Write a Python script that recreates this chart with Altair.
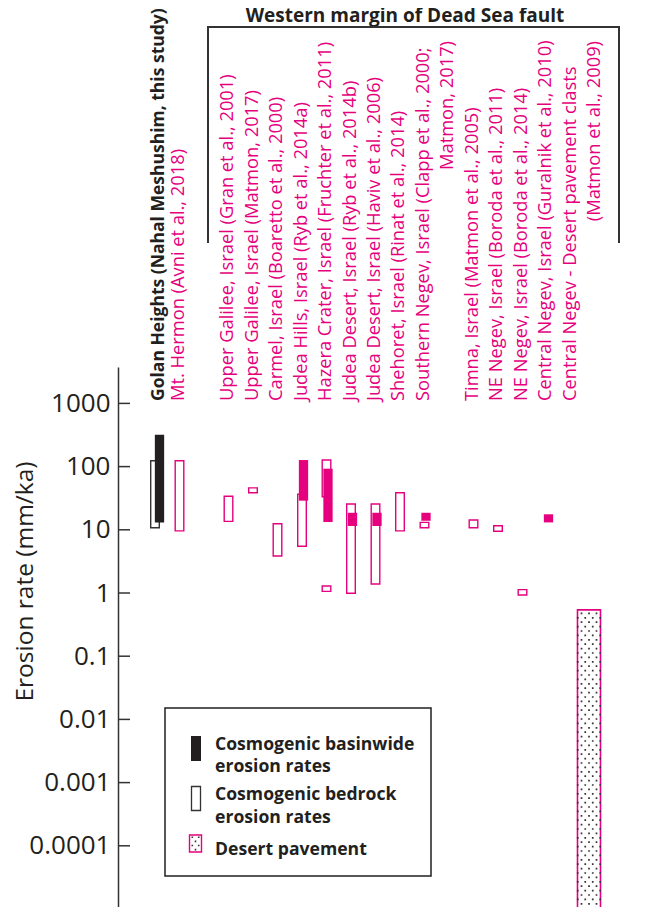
import altair as alt
import pandas as pd

PINK = "#e5007e"
DARK = "#231f20"
GREY = "#333333"
FONT = "Open Sans"

# ---- categories (column slots, left to right; pads/gaps hold no data) ----
slots = ["pad0", "Golan", "Hermon", "gap1", "UG_Gran", "UG_Matmon", "Carmel", "JudeaHills",
         "Hazera", "JD_Ryb", "JD_Haviv", "Shehoret", "SNegev", "gap2", "Timna",
         "NE_2011", "NE_2014", "CN_Guralnik", "CN_Pavement", "gap3", "pad1"]

# ---- column labels ----
label_site = ["Golan", "Hermon", "UG_Gran", "UG_Matmon", "Carmel", "JudeaHills", "Hazera",
              "JD_Ryb", "JD_Haviv", "Shehoret", "SNegev", "Timna", "NE_2011", "NE_2014",
              "CN_Guralnik", "CN_Pavement"]
label_line1 = [
    "Golan Heights (Nahal Meshushim, this study)",
    "Mt. Hermon (Avni et al., 2018)",
    "Upper Galilee, Israel (Gran et al., 2001)",
    "Upper Galilee, Israel (Matmon, 2017)",
    "Carmel, Israel (Boaretto et al., 2000)",
    "Judea Hills, Israel (Ryb et al., 2014a)",
    "Hazera Crater, Israel (Fruchter et al., 2011)",
    "Judea Desert, Israel (Ryb et al., 2014b)",
    "Judea Desert, Israel (Haviv et al., 2006)",
    "Shehoret, Israel (Rinat et al., 2014)",
    "Southern Negev, Israel (Clapp et al., 2000;",
    "Timna, Israel (Matmon et al., 2005)",
    "NE Negev, Israel (Boroda et al., 2011)",
    "NE Negev, Israel (Boroda et al., 2014)",
    "Central Negev, Israel (Guralnik et al., 2010)",
    "Central Negev - Desert pavement clasts",
]
label_line2 = ["", "", "", "", "", "", "", "", "", "", "Matmon, 2017)", "", "", "", "",
               "(Matmon et al., 2009)"]

# ---- erosion-rate ranges (mm/ka) ----
bar_site = ["Golan", "Golan", "Hermon", "UG_Gran", "UG_Matmon", "Carmel", "JudeaHills",
            "JudeaHills", "Hazera", "Hazera", "Hazera", "JD_Ryb", "JD_Ryb", "JD_Haviv",
            "JD_Haviv", "Shehoret", "SNegev", "SNegev", "Timna", "NE_2011", "NE_2014",
            "CN_Guralnik", "CN_Pavement"]
bar_kind = ["bedrock", "basin", "bedrock", "bedrock", "bedrock", "bedrock", "bedrock",
            "basin", "bedrock", "bedrock", "basin", "bedrock", "basin", "bedrock",
            "basin", "bedrock", "basin", "bedrock", "bedrock", "bedrock", "bedrock",
            "basin", "pavement"]
bar_low = [10.8, 13, 9.6, 13.6, 38.6, 3.85, 5.5, 28.9, 33.4, 1.06, 13.3, 0.99, 11.5,
           1.39, 11.5, 9.6, 13.9, 10.8, 10.8, 9.5, 0.93, 13.1, 0.00001]
bar_high = [124, 320, 124, 34, 46, 12.5, 36.5, 127, 127, 1.29, 92.7, 25.6, 18.6,
            25.6, 18.6, 38.6, 18.6, 13.1, 14.3, 11.6, 1.13, 17.6, 0.54]

tick_values = [1000, 100, 10, 1, 0.1, 0.01, 0.001, 0.0001]
header_text = ["Western margin of Dead Sea fault"]
legend_text = ["Cosmogenic basinwide", "erosion rates", "Cosmogenic bedrock",
               "\u00a0erosion rates", "Desert pavement"]

bars = pd.DataFrame({"site": bar_site, "kind": bar_kind, "low": bar_low, "high": bar_high})
labels = pd.DataFrame({"site": label_site, "line1": label_line1, "line2": label_line2})
ticks = pd.DataFrame({"v": tick_values})
one = pd.DataFrame({"a": [0]})


# ---- dotted texture paths (pixel units, size=4 -> 1 unit = 1 px) ----
def dot(x, y, s=1.7):
    return f"M{x - s / 2:.2f},{y - s / 2:.2f}h{s}v{s}h-{s}z"


main_dots = []
for r in range(72):
    yy = 3.5 + r * 4.4
    xs = [-7.5, 0, 7.5] if r % 2 == 0 else [-11.25, -3.75, 3.75, 11.25]
    main_dots += [dot(x, yy) for x in xs]
MAIN_DOTS = " ".join(main_dots)

leg_dots = []
for r, yy in enumerate([-6.2, -2.1, 2.0, 6.1]):
    xs = [-3.2, 3.2] if r % 2 == 0 else [0]
    leg_dots += [dot(x, yy, 1.6) for x in xs]
LEG_DOTS = " ".join(leg_dots)

xenc = alt.X("site:N", scale=alt.Scale(type="point", domain=slots, padding=0.49), axis=None)
yscale = alt.Scale(type="log", domain=[0.00001, 3767], nice=False)

yaxis = alt.Axis(values=tick_values, format="~g", ticks=False, grid=False,
                 labelFont=FONT, labelFontSize=26, labelColor=DARK, labelPadding=8,
                 domainColor=GREY, domainWidth=1.5,
                 title="Erosion rate (mm/ka)", titleFont=FONT, titleFontSize=24.5,
                 titleFontWeight="normal", titleColor=DARK, titleX=-93, titleY=214,
                 titleAngle=270, titleAlign="center", titleBaseline="middle")


def bar_layer(expr, **mark):
    return alt.Chart(bars).transform_filter(expr).mark_bar(**mark).encode(
        x=xenc, y=alt.Y("low:Q", scale=yscale, axis=yaxis), y2="high:Q")


layers = [
    bar_layer("datum.site == 'Golan' && datum.kind == 'bedrock'",
              width=8.6, filled=False, stroke=GREY, strokeWidth=1.4, xOffset=0.5),
    bar_layer("datum.site != 'Golan' && datum.kind == 'bedrock'",
              width=8.6, filled=False, stroke=PINK, strokeWidth=1.4, xOffset=0.5),
    bar_layer("datum.site == 'Golan' && datum.kind == 'basin'",
              width=9.3, color=DARK, xOffset=5),
    bar_layer("datum.site != 'Golan' && datum.kind == 'basin'",
              width=9.3, color=PINK, xOffset=2),
    bar_layer("datum.kind == 'pavement'",
              width=23, fill="white", stroke=PINK, strokeWidth=1.6, xOffset=18),
    alt.Chart(bars).transform_filter("datum.kind == 'pavement'").mark_point(
        shape=MAIN_DOTS, size=4, filled=True, color=GREY, opacity=1, strokeWidth=0,
        xOffset=18).encode(x=xenc, y=alt.Y("high:Q", scale=yscale, axis=yaxis)),
    # inward tick marks
    alt.Chart(ticks).mark_rule(color=GREY, strokeWidth=1.5).encode(
        y=alt.Y("v:Q", scale=yscale, axis=yaxis), x=alt.value(0), x2=alt.value(12)),
    # column labels
    alt.Chart(labels).transform_filter("datum.site == 'Golan'").mark_text(
        angle=270, align="left", baseline="middle", font=FONT, fontSize=17.5,
        fontWeight="bold", color=DARK, xOffset=4).encode(
        x=xenc, y=alt.value(34), text="line1:N"),
    alt.Chart(labels).transform_filter("datum.site != 'Golan'").mark_text(
        angle=270, align="left", baseline="middle", font=FONT, fontSize=18.3,
        color=PINK).encode(x=xenc, y=alt.value(34), text="line1:N"),
    alt.Chart(labels).transform_filter("datum.line2 != ''").mark_text(
        angle=270, align="right", baseline="middle", font=FONT, fontSize=18.3,
        color=PINK, xOffset=24.5).encode(x=xenc, y=alt.value(-326), text="line2:N"),
    # header and bracket
    alt.Chart(pd.DataFrame({"t": header_text})).mark_text(
        font=FONT, fontSize=19, fontWeight="bold", color=DARK, align="center",
        baseline="alphabetic").encode(x=alt.value(287), y=alt.value(-345), text="t:N"),
    alt.Chart(one).mark_rule(color=GREY, strokeWidth=2).encode(
        x=alt.value(90), x2=alt.value(501), y=alt.value(-340)),
    alt.Chart(one).mark_rule(color=GREY, strokeWidth=2).encode(
        x=alt.value(90), y=alt.value(-341), y2=alt.value(-124)),
    alt.Chart(one).mark_rule(color=GREY, strokeWidth=2).encode(
        x=alt.value(501), y=alt.value(-341), y2=alt.value(-124)),
    # legend
    alt.Chart(one).mark_rect(fill="white", stroke=DARK, strokeWidth=1.5).encode(
        x=alt.value(47), x2=alt.value(313), y=alt.value(341), y2=alt.value(509)),
    alt.Chart(one).mark_rect(color=DARK).encode(
        x=alt.value(73), x2=alt.value(83), y=alt.value(369), y2=alt.value(394)),
    alt.Chart(one).mark_rect(fill="white", stroke=GREY, strokeWidth=1.3).encode(
        x=alt.value(73.5), x2=alt.value(82.5), y=alt.value(419.5), y2=alt.value(443.5)),
    alt.Chart(one).mark_rect(fill="white", stroke=PINK, strokeWidth=1.4).encode(
        x=alt.value(71.5), x2=alt.value(83.5), y=alt.value(468), y2=alt.value(485)),
    alt.Chart(one).mark_point(shape=LEG_DOTS, size=4, filled=True, color=GREY,
                              opacity=1, strokeWidth=0).encode(
        x=alt.value(77.5), y=alt.value(476.5)),
]

legend_x = [97, 97, 97, 97, 97]
legend_y = [383, 405, 433, 456, 488]
for txt, xx, yy in zip(legend_text, legend_x, legend_y):
    layers.append(
        alt.Chart(pd.DataFrame({"t": [txt]})).mark_text(
            font=FONT, fontSize=17.6, fontWeight="bold", color=DARK, align="left",
            baseline="alphabetic").encode(
            x=alt.value(xx), y=alt.value(yy), text="t:N"))

chart = alt.layer(*layers).properties(
    width=514, height=542,
    autosize=alt.AutoSizeParams(type="none"),
    padding={"left": 110, "top": 359, "right": 10, "bottom": 5},
).configure_view(stroke=None)

chart.save("out.html", embed_options={"renderer": "svg", "actions": False})
